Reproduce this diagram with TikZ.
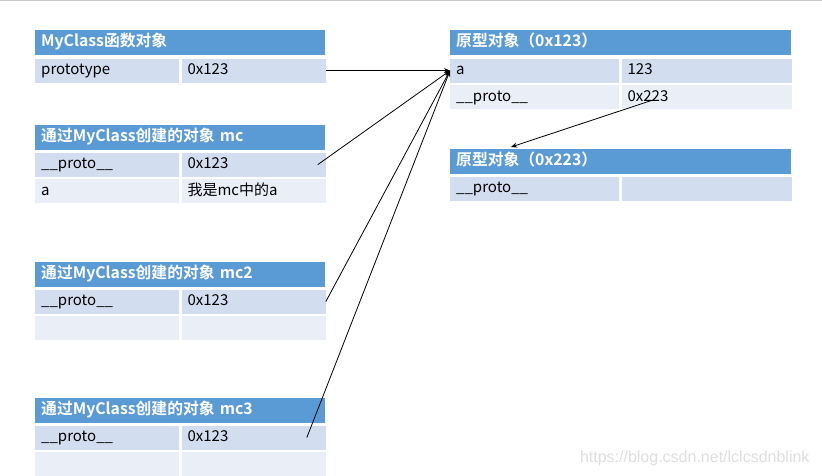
\documentclass[tikz,border=0pt]{standalone}
\usepackage{fontspec}
\setmainfont{Noto Sans CJK SC}[BoldFont={Noto Sans CJK SC Bold}]
\newfontfamily\wmfont{Liberation Sans}
\usetikzlibrary{arrows.meta,positioning,calc}
\definecolor{hdrblue}{HTML}{5B9BD5}
\definecolor{rowdark}{HTML}{D2DEEF}
\definecolor{rowlight}{HTML}{EAEFF7}
\definecolor{wmgray}{HTML}{DEDEDE}
\definecolor{edgegray}{HTML}{C8C8C8}

\begin{document}
\begin{tikzpicture}[x=1pt,y=-1pt,
    hdr/.style={fill=hdrblue,text=white,font=\bfseries\fontsize{15.8}{18}\selectfont,anchor=north west,
        minimum height=25pt,inner xsep=6pt,inner ysep=0pt,align=left,text height=11.5pt,text depth=3pt},
    cell/.style={anchor=north west,minimum height=24pt,inner xsep=6pt,inner ysep=0pt,align=left,
        font=\fontsize{15}{17}\selectfont,text height=11.5pt,text depth=3pt},
    rowa/.style={cell,fill=rowdark},
    rowb/.style={cell,fill=rowlight},
    ptr/.style={-{Stealth[length=6pt,width=5pt]},line width=0.8pt}
]
\useasboundingbox (0,0) rectangle (822,476);
\draw[edgegray,line width=1pt] (0,1) -- (822,1);

% MyClass function object
\node[hdr,text width=278pt] (fh) at (35,30) {MyClass函数对象};
\node[rowa,text width=132pt,below right=3pt and 0pt of fh.south west] (fk) {prototype};
\node[rowa,text width=132pt,right=2pt of fk] (fv) {0x123};

% instance mc
\node[hdr,text width=278pt] (ah) at (35,125) {通过MyClass创建的对象 mc};
\node[rowa,text width=132pt,below right=2pt and 0pt of ah.south west] (ak) {\_\_proto\_\_};
\node[rowa,text width=132pt,right=2pt of ak] (av) {0x123};
\node[rowb,text width=132pt,below right=2pt and 0pt of ak.south west] (ak2) {a};
\node[rowb,text width=132pt,right=2pt of ak2] (av2) {我是mc中的a};

% instance mc2
\node[hdr,text width=278pt] (bh) at (35,262) {通过MyClass创建的对象 mc2};
\node[rowa,text width=132pt,below right=2pt and 0pt of bh.south west] (bk) {\_\_proto\_\_};
\node[rowa,text width=132pt,right=2pt of bk] (bv) {0x123};
\node[rowb,text width=132pt,below right=2pt and 0pt of bk.south west] (bk2) {};
\node[rowb,text width=132pt,right=2pt of bk2] (bv2) {};

% instance mc3
\node[hdr,text width=278pt] (ch) at (35,398) {通过MyClass创建的对象 mc3};
\node[rowa,text width=132pt,below right=2pt and 0pt of ch.south west] (ck) {\_\_proto\_\_};
\node[rowa,text width=132pt,right=2pt of ck] (cv) {0x123};
\node[rowb,text width=132pt,below right=2pt and 0pt of ck.south west] (ck2) {};
\node[rowb,text width=132pt,right=2pt of ck2] (cv2) {};

% prototype 0x123
\node[hdr,text width=329pt] (ph) at (450,30) {原型对象（0x123）};
\node[rowa,text width=157pt,below right=3pt and 0pt of ph.south west] (pk) {a};
\node[rowa,text width=158pt,right=2pt of pk] (pv) {123};
\node[rowb,text width=157pt,below right=2pt and 0pt of pk.south west] (pk2) {\_\_proto\_\_};
\node[rowb,text width=158pt,right=2pt of pk2] (pv2) {0x223};

% prototype 0x223
\node[hdr,text width=329pt] (qh) at (450,149) {原型对象（0x223）};
\node[rowa,text width=157pt,below right=2pt and 0pt of qh.south west] (qk) {\_\_proto\_\_};
\node[rowa,text width=158pt,right=2pt of qk] (qv) {};

\coordinate (a0) at ($(av.east)+(-8,0)$);
\coordinate (c0) at ($(cv.east)+(-19,0)$);
\coordinate (p0) at (653,100);
\coordinate (q0) at (511,147);

\draw[ptr] (fv.east) -- (pk.west);
\draw[ptr] (a0) -- (pk.west);
\draw[ptr] (bv.east) -- (pk.west);
\draw[ptr] (c0) -- (pk.west);
\draw[ptr] (p0) -- (q0);

\node[text=wmgray,font=\wmfont\fontsize{16}{18}\selectfont,anchor=east] (wm) at (813,458) {https://blog.csdn.net/lclcsdnblink};
\end{tikzpicture}
\end{document}
